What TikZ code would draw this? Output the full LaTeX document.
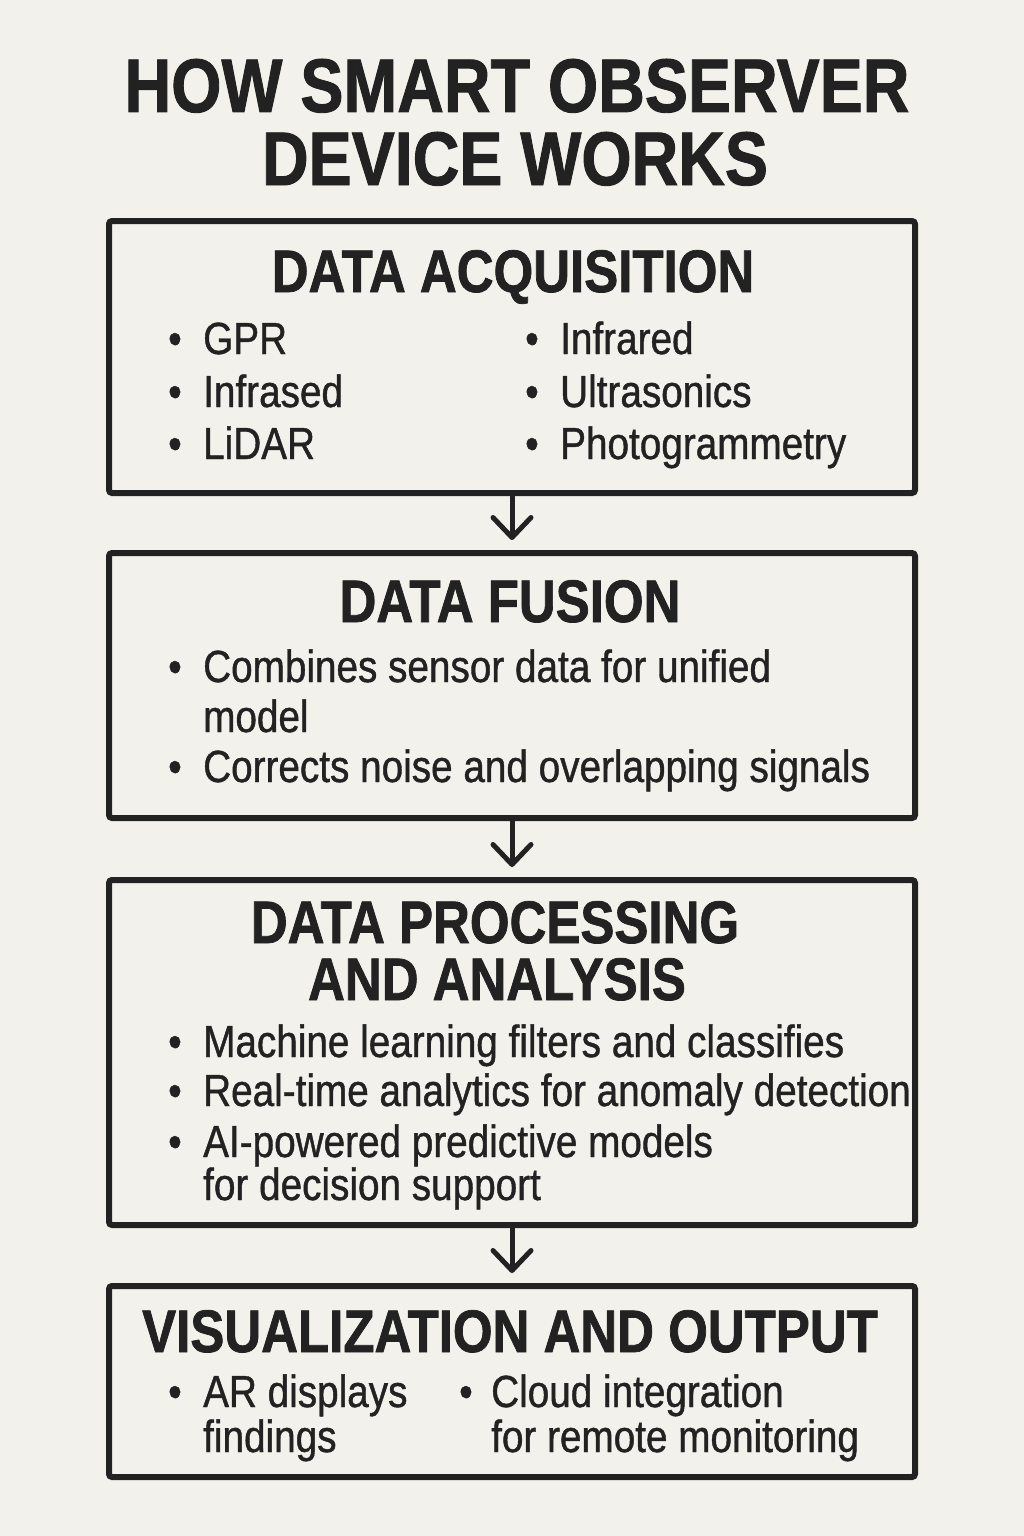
\documentclass[tikz,border=0pt]{standalone}
\usepackage{fontspec}
\setmainfont{Liberation Sans}[FakeStretch=0.86]
\newfontfamily\bodyfont{Liberation Sans}[FakeStretch=0.86, FakeBold=0.9]
\newfontfamily\headfont{Liberation Sans Bold}[FakeStretch=0.85, FakeBold=1.2]
\usetikzlibrary{arrows.meta}
\definecolor{bgpaper}{RGB}{243, 241, 236}
\definecolor{inkdark}{RGB}{34, 34, 34}

\tikzset{
  stagebox/.style={draw=inkdark, line width=6pt, rounded corners=3pt, minimum width=806pt, inner sep=0pt},
  titletxt/.style={font=\headfont\fontsize{76}{76}\selectfont, text=inkdark, anchor=base, inner sep=0pt},
  headtxt/.style={font=\headfont\fontsize{60}{60}\selectfont, text=inkdark, anchor=base, inner sep=0pt},
  bodytxt/.style={font=\bodyfont\fontsize{45}{45}\selectfont, text=inkdark, anchor=base west, inner sep=0pt},
  bulletdot/.style={font=\bodyfont\fontsize{45}{45}\selectfont, text=inkdark, anchor=base, inner sep=0pt},
  flowarrow/.style={draw=inkdark, line width=5pt, shorten >=10pt,
    -{Straight Barb[length=20pt, width=38pt, line cap=round, line join=round]}}
}

\begin{document}
\begin{tikzpicture}[x=1pt, y=-1pt]
  % Page: 1024 x 1536, paper background
  \fill[bgpaper] (0, 0) rectangle (1024, 1536);
  \useasboundingbox (0, 0) rectangle (1024, 1536);

  % Title
  \node[titletxt] (title1) at (517, 112) {HOW SMART OBSERVER};
  \node[titletxt] (title2) at (515, 185) {DEVICE WORKS};

  % Stage boxes (border centre lines x=109..915)
  \node[stagebox, minimum height=272pt] (acq) at (512, 357) {};
  \node[stagebox, minimum height=265pt] (fusion) at (512, 685.5) {};
  \node[stagebox, minimum height=345pt] (proc) at (512, 1052.5) {};
  \node[stagebox, minimum height=191pt] (vis) at (512, 1381.5) {};

  % Arrows between the stages
  \draw[flowarrow] (acq.south) -- (fusion.north);
  \draw[flowarrow] (fusion.south) -- (proc.north);
  \draw[flowarrow] (proc.south) -- (vis.north);

  % 1. Data acquisition: two columns of sensors
  \node[headtxt] (acqhead) at (513, 292) {DATA ACQUISITION};
  \foreach \y/\lft/\rgt in {354/GPR/Infrared, 407/Infrased/Ultrasonics, 459/LiDAR/Photogrammetry} {
    \node[bulletdot] (acqdotL\y) at (175, \y) {•};
    \node[bodytxt] (acqL\y) at (203, \y) {\lft};
    \node[bulletdot] (acqdotR\y) at (532, \y) {•};
    \node[bodytxt] (acqR\y) at (560, \y) {\rgt};
  }

  % 2. Data fusion
  \node[headtxt] (fushead) at (510, 622) {DATA FUSION};
  \node[bulletdot] (fusdot1) at (175, 682) {•};
  \node[bodytxt] (fus1) at (203, 682) {Combines sensor data for unified};
  \node[bodytxt] (fus1b) at (203, 732) {model};
  \node[bulletdot] (fusdot2) at (175, 782) {•};
  \node[bodytxt] (fus2) at (203, 782) {Corrects noise and overlapping signals};

  % 3. Data processing and analysis
  \node[headtxt] (prochead1) at (495, 943) {DATA PROCESSING};
  \node[headtxt] (prochead2) at (497, 1000) {AND ANALYSIS};
  \node[bulletdot] (procdot1) at (175, 1057) {•};
  \node[bodytxt] (proc1) at (203, 1057) {Machine learning filters and classifies};
  \node[bulletdot] (procdot2) at (175, 1106) {•};
  \node[bodytxt] (proc2) at (203, 1106) {Real-time analytics for anomaly detection};
  \node[bulletdot] (procdot3) at (175, 1157) {•};
  \node[bodytxt] (proc3) at (203, 1157) {AI-powered predictive models};
  \node[bodytxt] (proc3b) at (203, 1200) {for decision support};

  % 4. Visualization and output: two bullets side by side
  \node[headtxt] (vishead) at (510, 1352) {VISUALIZATION AND OUTPUT};
  \node[bulletdot] (visdot1) at (175, 1407) {•};
  \node[bodytxt] (vis1) at (203, 1407) {AR displays};
  \node[bodytxt] (vis1b) at (203, 1452) {findings};
  \node[bulletdot] (visdot2) at (466, 1407) {•};
  \node[bodytxt] (vis2) at (491, 1407) {Cloud integration};
  \node[bodytxt] (vis2b) at (491, 1452) {for remote monitoring};
\end{tikzpicture}
\end{document}
